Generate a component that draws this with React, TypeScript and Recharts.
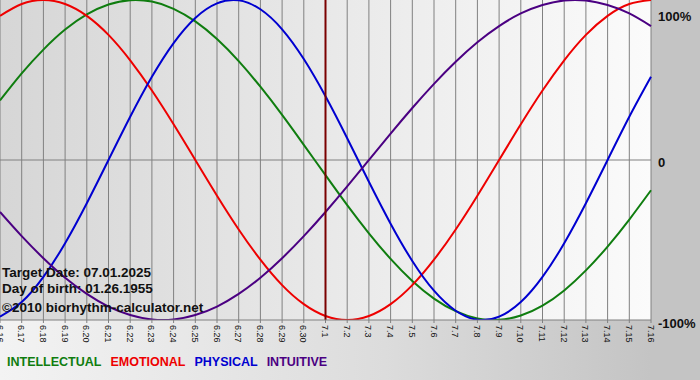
import React from 'react';
import { LineChart, Line, XAxis, YAxis, CartesianGrid, ReferenceLine, Legend } from 'recharts';

const dates = ['6.16','6.17','6.18','6.19','6.20','6.21','6.22','6.23','6.24','6.25','6.26','6.27','6.28','6.29','6.30','7.1','7.2','7.3','7.4','7.5','7.6','7.7','7.8','7.9','7.10','7.11','7.12','7.13','7.14','7.15','7.16'];
const intellectual = [0.372,0.541,0.690,0.815,0.910,0.972,0.999,0.990,0.945,0.866,0.756,0.618,0.458,0.282,0.095,-0.095,-0.282,-0.458,-0.618,-0.756,-0.866,-0.945,-0.990,-0.999,-0.972,-0.910,-0.815,-0.690,-0.541,-0.372,-0.189];
const emotional = [0.901,0.975,1,0.975,0.901,0.782,0.623,0.434,0.223,0,-0.223,-0.434,-0.623,-0.782,-0.901,-0.975,-1,-0.975,-0.901,-0.782,-0.623,-0.434,-0.223,0,0.223,0.434,0.623,0.782,0.901,0.975,1];
const physical = [-0.979,-0.888,-0.731,-0.520,-0.270,0,0.270,0.520,0.731,0.888,0.979,0.998,0.942,0.817,0.631,0.398,0.136,-0.136,-0.398,-0.631,-0.817,-0.942,-0.998,-0.979,-0.888,-0.731,-0.520,-0.270,0,0.270,0.520];
const intuitive = [-0.325,-0.476,-0.614,-0.736,-0.837,-0.916,-0.969,-0.997,-0.997,-0.969,-0.916,-0.837,-0.736,-0.614,-0.476,-0.325,-0.165,0,0.165,0.325,0.476,0.614,0.736,0.837,0.916,0.969,0.997,0.997,0.969,0.916,0.837];
const yTicks = [-1, 0, 1];
const yLabels: Record<string, string> = { '-1': '-100%', '0': '0', '1': '100%' };
const targetDate = '7.1';
const infoLines = ['Target Date: 07.01.2025', 'Day of birth: 01.26.1955', '\u00A92010 biorhythm-calculator.net'];

const series = [
  { key: 'intellectual', name: 'INTELLECTUAL', color: '#0f7d0f' },
  { key: 'emotional', name: 'EMOTIONAL', color: '#ee0000' },
  { key: 'physical', name: 'PHYSICAL', color: '#0000d0' },
  { key: 'intuitive', name: 'INTUITIVE', color: '#4b0082' },
];

const data = dates.map((d, i) => ({
  date: d,
  intellectual: intellectual[i],
  emotional: emotional[i],
  physical: physical[i],
  intuitive: intuitive[i],
}));

const XTick = (props: any) => {
  const { x, y, payload } = props;
  return (
    <text x={x} y={y} dx={2} dy={3.5} transform={`rotate(90 ${x} ${y})`} textAnchor="start"
      fontSize={9} fontFamily="Liberation Sans, Arial, sans-serif" fill="#111">
      {payload.value}
    </text>
  );
};

const YTick = (props: any) => {
  const { x, y, payload } = props;
  const v = payload.value;
  const dy = v === 1 ? 12 : v === 0 ? 6.5 : 7.5;
  return (
    <text x={x} y={y} dy={dy} textAnchor="start" fontSize={13} fontWeight="bold"
      fontFamily="Liberation Sans, Arial, sans-serif" fill="#111">
      {yLabels[String(v)]}
    </text>
  );
};

const LegendContent = () => (
  <div style={{ display: 'flex', paddingLeft: 7, height: 30, alignItems: 'center', paddingBottom: 6, boxSizing: 'border-box',
    fontFamily: 'Liberation Sans, Arial, sans-serif', fontWeight: 'bold', fontSize: 12.5 }}>
    {series.map((s) => (
      <span key={s.key} style={{ color: s.color, marginRight: 9 }}>{s.name}</span>
    ))}
  </div>
);

export default function App() {
  return (
    <div style={{ position: 'absolute', left: 0, top: 0, width: 700, height: 380,
      background: 'linear-gradient(to right, #f3f3f3 0%, #dcdcdc 55%, #c4c4c4 93%, #c4c4c4 100%)' }}>
      <LineChart width={700} height={380} data={data} margin={{ top: 0, right: 0, left: 0, bottom: 0 }}>
        <defs>
          <linearGradient id="plotBg" x1="0" y1="0" x2="1" y2="0">
            <stop offset="0%" stopColor="#d6d6d6" />
            <stop offset="100%" stopColor="#fbfbfb" />
          </linearGradient>
        </defs>
        <CartesianGrid stroke="#808080" strokeOpacity={1} fill="url(#plotBg)" fillOpacity={1}
          horizontalValues={[0]} vertical={true} />
        <XAxis dataKey="date" interval={0} height={30} tickSize={3} tickMargin={0}
          padding={{ left: 0, right: 0 }} axisLine={{ stroke: '#808080' }} tickLine={{ stroke: '#808080' }}
          tick={<XTick />} />
        <YAxis orientation="right" width={49} domain={[-1, 1]} ticks={yTicks} axisLine={false} tickLine={false}
          tickSize={0} tickMargin={7} tick={<YTick />} allowDataOverflow />
        {series.map((s) => (
          <Line key={s.key} dataKey={s.key} name={s.name} type="natural" stroke={s.color} strokeWidth={2}
            dot={false} activeDot={false} isAnimationActive={false} />
        ))}
        <ReferenceLine x={targetDate} stroke="#7a0000" strokeWidth={2} />
        <Legend verticalAlign="bottom" align="left" height={30} content={<LegendContent />}
          wrapperStyle={{ left: 0, width: 700 }} />
      </LineChart>
      <div style={{ position: 'absolute', left: 2, top: 265, fontFamily: 'Liberation Sans, Arial, sans-serif',
        fontWeight: 'bold', fontSize: 13.5, color: '#111', lineHeight: '15.5px', pointerEvents: 'none' }}>
        <div>{infoLines[0]}</div>
        <div>{infoLines[1]}</div>
        <div style={{ marginTop: 4 }}>{infoLines[2]}</div>
      </div>
    </div>
  );
}
